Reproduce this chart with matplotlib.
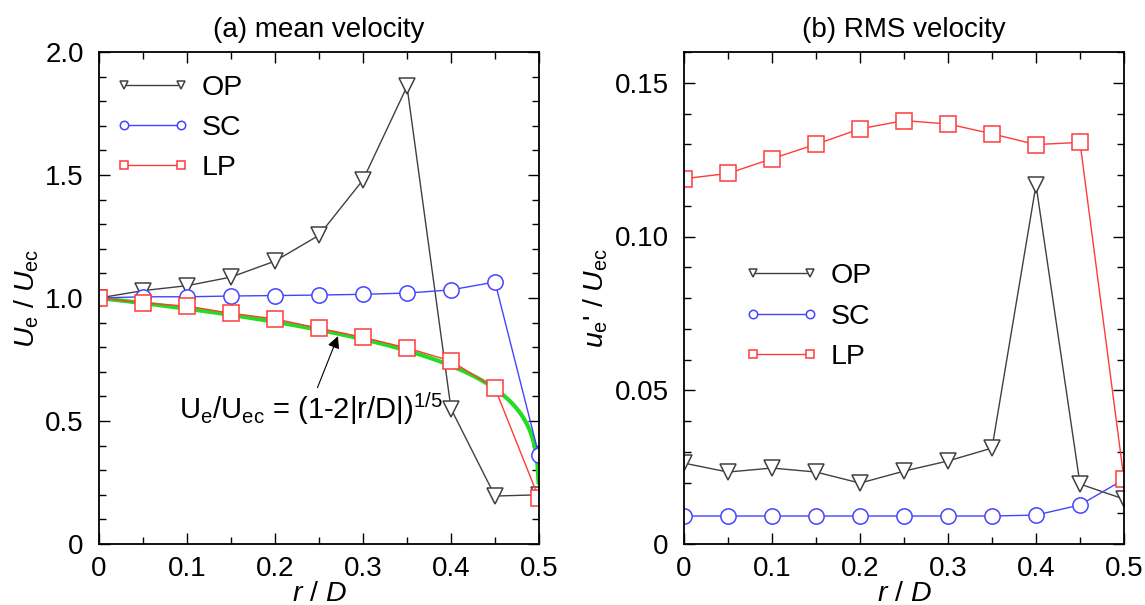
import numpy as np
import matplotlib
matplotlib.use("Agg")
import matplotlib.pyplot as plt
from matplotlib.ticker import MultipleLocator

plt.rcParams['font.family'] = ['Liberation Sans', 'DejaVu Sans']
plt.rcParams['mathtext.fontset'] = 'custom'
plt.rcParams['mathtext.rm'] = 'Liberation Sans'
plt.rcParams['mathtext.it'] = 'Liberation Sans:italic'

r = [0.0, 0.05, 0.1, 0.15, 0.2, 0.25, 0.3, 0.35, 0.4, 0.45, 0.5]

mean_op = [1.0, 1.03, 1.05, 1.085, 1.15, 1.255, 1.48, 1.86, 0.55, 0.195, 0.20]
mean_sc = [1.0, 1.005, 1.005, 1.008, 1.01, 1.012, 1.015, 1.02, 1.033, 1.065, 0.36]
mean_lp = [1.0, 0.98, 0.967, 0.938, 0.915, 0.877, 0.84, 0.797, 0.744, 0.633, 0.185]

rms_op = [0.0263, 0.0234, 0.0247, 0.0234, 0.0198, 0.0237, 0.027, 0.0312, 0.1168, 0.0195, 0.0146]
rms_sc = [0.0091, 0.0091, 0.0091, 0.0091, 0.0091, 0.0091, 0.0091, 0.0091, 0.0094, 0.0127, 0.021]
rms_lp = [0.1188, 0.1205, 0.1253, 0.130, 0.135, 0.1377, 0.1366, 0.1334, 0.1299, 0.1306, 0.021]

x_ticks = [0.0, 0.1, 0.2, 0.3, 0.4, 0.5]
x_ticklabels = ['0', '0.1', '0.2', '0.3', '0.4', '0.5']
y1_ticks = [0.0, 0.5, 1.0, 1.5, 2.0]
y1_ticklabels = ['0', '0.5', '1.0', '1.5', '2.0']
y2_ticks = [0.0, 0.05, 0.10, 0.15]
y2_ticklabels = ['0', '0.05', '0.10', '0.15']

# analytic profile Ue/Uec = (1-2|r/D|)^(1/5)
r_fit = np.linspace(0, 0.4995, 400)
u_fit = (1 - 2 * np.abs(r_fit)) ** 0.2

C_OP, C_SC, C_LP = '#404040', '#4444ff', '#ff3b3b'

W, H = 1145, 605
fig = plt.figure(figsize=(W/100, H/100), dpi=100)
ax1 = fig.add_axes([99/W, 1-544/H, (539-99)/W, (544-52)/H])
ax2 = fig.add_axes([684/W, 1-544/H, (1124-684)/W, (544-52)/H])

ms = 11
styles = [('OP', 'v', C_OP), ('SC', 'o', C_SC), ('LP', 's', C_LP)]

ln, = ax1.plot(r_fit, u_fit, color='#22dd22', lw=3, zorder=2)
ln.set_clip_path(ax1.patch)
for (lab, mk, c), ys in zip(styles, [mean_op, mean_sc, mean_lp]):
    ln, = ax1.plot(r, ys, marker=mk, color=c, lw=1, ms=ms, mfc='white', mec=c,
                   mew=1.1, label=lab, zorder=3)
    ln.set_clip_path(ax1.patch)
for (lab, mk, c), ys in zip(styles, [rms_op, rms_sc, rms_lp]):
    ln, = ax2.plot(r, ys, marker=mk, color=c, lw=1, ms=ms, mfc='white', mec=c,
                   mew=1.1, label=lab, zorder=3)
    ln.set_clip_path(ax2.patch)

for ax in (ax1, ax2):
    ax.set_xlim(0, 0.5)
    ax.set_xticks(x_ticks)
    ax.set_xticklabels(x_ticklabels)
    ax.xaxis.set_minor_locator(MultipleLocator(0.05))
    ax.tick_params(which='both', direction='in', top=True, right=True,
                   labelsize=20)
    ax.tick_params(axis='x', pad=9)
    ax.tick_params(axis='y', pad=11)
    ax.tick_params(which='major', length=8, width=1)
    ax.tick_params(which='minor', length=5, width=1)
    for s in ax.spines.values():
        s.set_linewidth(1.3)
        s.set_zorder(5)
    ax.set_xlabel('$r$ / $D$', fontsize=20.5, labelpad=-1)

ax1.set_ylim(0, 2.0)
ax1.set_yticks(y1_ticks)
ax1.set_yticklabels(y1_ticklabels)
ax1.yaxis.set_minor_locator(MultipleLocator(0.1))
ax1.set_ylabel('$U_\\mathrm{e}$ / $U_\\mathrm{ec}$', fontsize=20.5, labelpad=3)
ax1.set_title('(a) mean velocity', fontsize=20, pad=11)

ax2.set_ylim(0, 0.16)
ax2.set_yticks(y2_ticks)
ax2.set_yticklabels(y2_ticklabels)
ax2.yaxis.set_minor_locator(MultipleLocator(0.01))
ax2.set_ylabel("$u_\\mathrm{e}$' / $U_\\mathrm{ec}$", fontsize=20.5, labelpad=3)
ax2.set_title('(b) RMS velocity', fontsize=20, pad=11)

ax1.annotate('U$_\\mathrm{e}$/U$_\\mathrm{ec}$ = (1-2|r/D|)$^{1/5}$',
             xy=(0.2715, 0.845), xytext=(0.241, 0.55), fontsize=21,
             ha='center', va='center',
             arrowprops=dict(arrowstyle='-|>', color='black', lw=0.8,
                             mutation_scale=18, shrinkA=0, shrinkB=0,
                             relpos=(0.52, 1.0)))

leg_kw = dict(frameon=False, fontsize=20.5, numpoints=2, markerscale=0.55,
              handlelength=2.6, handletextpad=0.4, labelspacing=0.5,
              borderpad=0.2)
ax1.legend(loc='upper left', bbox_to_anchor=(-0.007, 0.994), **leg_kw)
ax2.legend(loc='upper left', bbox_to_anchor=(0.093, 0.611), **leg_kw)

fig.savefig('out.png', dpi=100)
